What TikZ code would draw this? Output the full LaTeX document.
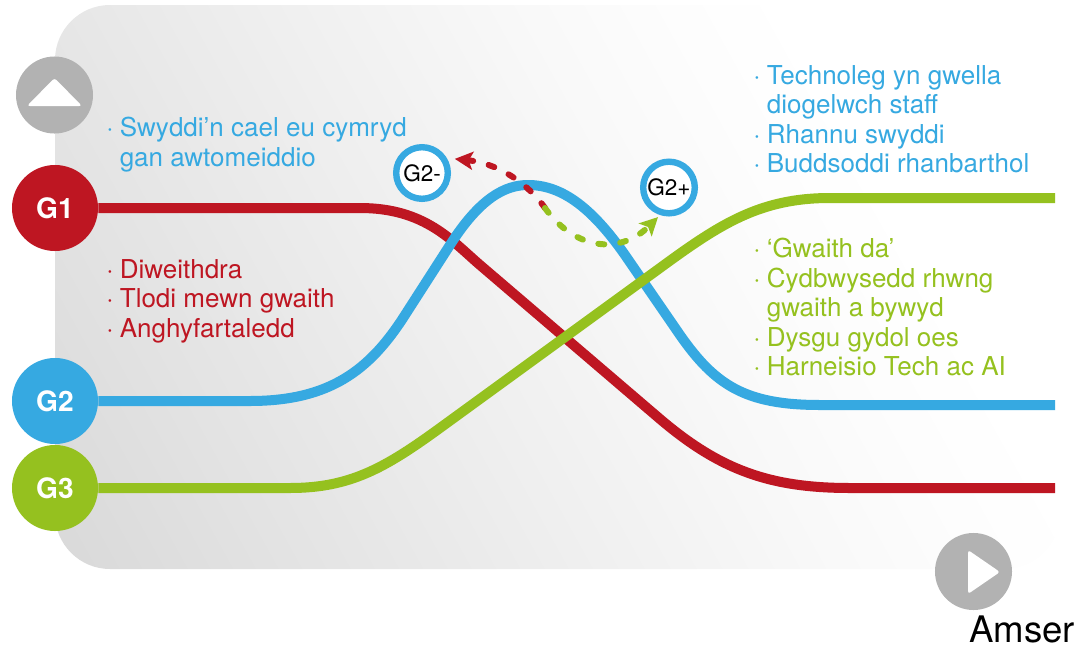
\documentclass[tikz,border=0pt]{standalone}
\usepackage{fontspec}
\setmainfont{TeX Gyre Heros}
\usetikzlibrary{arrows.meta}

\definecolor{gred}{HTML}{BE1622}
\definecolor{gblue}{HTML}{36A9E1}
\definecolor{ggreen}{HTML}{95C11F}
\definecolor{ggrey}{HTML}{B2B2B2}

\pgfdeclarehorizontalshading{panelfade}{100bp}{color(0bp)=(black!16); color(16bp)=(black!15);
  color(28bp)=(black!11); color(44bp)=(black!6); color(56bp)=(black!2.5); color(64bp)=(black!0.8);
  color(70bp)=(white); color(100bp)=(white)}

\newcommand{\bul}{\makebox[0.34cm][l]{·}}
\newcommand{\ind}{\hspace*{0.34cm}}

\begin{document}
\begin{tikzpicture}[x=0.025cm, y=-0.025cm,
  curve/.style={line width=0.25cm},
  hop/.style={line width=0.15cm, line cap=round, dash pattern=on 0.15cm off 0.4cm,
    -{Stealth[length=0.45cm, width=0.45cm, inset=0.1cm]}},
  gnode/.style={circle, fill=#1, minimum size=2.15cm, inner sep=0, text=white,
    font=\bfseries\fontsize{20pt}{24pt}\selectfont},
  knob/.style={circle, fill=ggrey, minimum size=1.925cm, inner sep=0},
  ring/.style={circle, draw=gblue, line width=0.16cm, fill=white, minimum size=1.29cm,
    inner sep=0, font=\fontsize{16pt}{18pt}\selectfont},
  txt/.style={anchor=north west, inner sep=0, align=left, font=\fontsize{18.5pt}{21pt}\selectfont}]
\useasboundingbox (0,0) rectangle (1087,652);

% background panel
\shade[rounded corners=1.375cm, shading=panelfade, shading angle=29]
  (55,5) rectangle (1060,569);

% group markers
\node[knob] (up) at (54.5,95) {};
\fill[white, rounded corners=0.07cm] (27,106) -- (54.5,78) -- (82,106) -- cycle;
\node[gnode=gred] (g1) at (55,208) {G1};
\node[gnode=gblue] (g2) at (55,401) {G2};
\node[gnode=ggreen] (g3) at (55,488) {G3};
\node[knob] (time) at (973.5,571.5) {};
\fill[white, rounded corners=0.07cm] (968,550) -- (1000,572) -- (968,594) -- cycle;

\coordinate (r1) at (1055,488);
\coordinate (r2) at (1055,405);
\coordinate (r3) at (1055,198);

% the three paths
\draw[curve, gred] (g1.east) -- (360,208) .. controls (425,208) and (452,241) .. (480,265)
  -- (660,419) .. controls (720,470) and (770,488) .. (850,488) -- (r1);
\draw[curve, gblue] (g2.east) -- (250,401) .. controls (330,401) and (370,370) .. (405,315)
  -- (450,245) .. controls (480,198) and (505,185) .. (528,185)
  .. controls (560,185) and (590,205) .. (625,255)
  -- (680,335) .. controls (715,385) and (745,405) .. (820,405) -- (r2);
\draw[curve, ggreen] (g3.east) -- (290,488) .. controls (350,488) and (385,468) .. (440,428)
  -- (660,268) .. controls (720,224) and (760,198) .. (830,198) -- (r3);

% G2 splits
\node[ring] (g2m) at (422,173) {G2-};
\node[ring] (g2p) at (669,187.5) {G2+};
\coordinate (fork) at (545,208);
\draw[hop, gred, shorten >=0.2cm] (fork) .. controls (525,180) and (495,163) .. (g2m.31);
\draw[hop, ggreen, shorten >=0.07cm] (fork) .. controls (575,250) and (620,255) .. (g2p.252);

% labels
\node[txt, text=gblue] (jobs) at (106,117) {\bul Swyddi’n cael eu cymryd\\\ind gan awtomeiddio};
\node[txt, text=gred] (risks) at (106,259) {\bul Diweithdra\\\bul Tlodi mewn gwaith\\\bul Anghyfartaledd};
\node[txt, text=gblue] (gains) at (753,65) {\bul Technoleg yn gwella\\\ind diogelwch staff\\\bul Rhannu swyddi\\\bul Buddsoddi rhanbarthol};
\node[txt, text=ggreen] (wellb) at (753,238) {\bul ‘Gwaith da’\\\bul Cydbwysedd rhwng\\\ind gwaith a bywyd\\\bul Dysgu gydol oes\\\bul Harneisio Tech ac AI};
\node[anchor=base west, inner sep=0, font=\fontsize{26pt}{30pt}\selectfont] (amser) at (969,642) {Amser};
\end{tikzpicture}
\end{document}
